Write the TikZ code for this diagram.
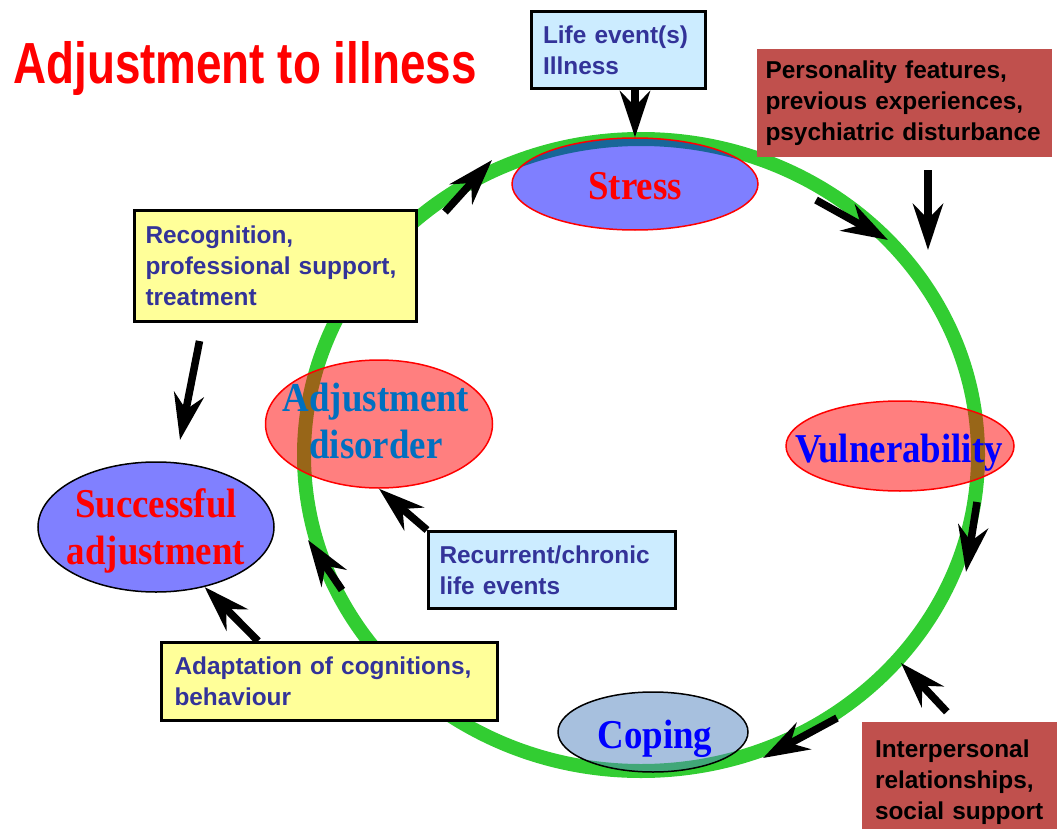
\documentclass[tikz,border=0pt]{standalone}
\usepackage{fontspec}
\setmainfont{Liberation Serif}
\newfontfamily\notefont{Liberation Sans}
\newfontfamily\titlefont{Liberation Sans}[FakeStretch=0.79]
\newfontfamily\bubfont{Liberation Serif}[FakeStretch=0.9]
\usetikzlibrary{arrows.meta, shapes.geometric}
\definecolor{ringgreen}{RGB}{50,205,50}
\definecolor{noteblue}{RGB}{204,236,255}
\definecolor{noteyellow}{RGB}{255,255,153}
\definecolor{notered}{RGB}{192,80,77}
\definecolor{notetext}{RGB}{51,51,153}
\definecolor{copeblue}{RGB}{80,130,190}
\definecolor{disblue}{RGB}{0,112,192}

\begin{document}
\begin{tikzpicture}[x=1pt, y=-1pt, >={Stealth[length=46pt, width=30pt, inset=15pt]},
	flow/.style={->, line width=7.5pt},
	bub/.style={ellipse, inner sep=0pt, line width=1.5pt, fill opacity=0.5},
	bubtext/.style={font=\bubfont\bfseries\fontsize{41}{47}\selectfont, align=center},
	note/.style={rectangle, inner ysep=0pt, align=left, font=\notefont\bfseries\fontsize{24.4}{31}\selectfont},
	lightnote/.style={note, draw=black, line width=3pt, text=notetext},
	darknote/.style={note, fill=notered, text=black}]
	\useasboundingbox (0,0) rectangle (1057,829);
	\clip (0,0) rectangle (1057,829);
	
	\node[anchor=base west, inner sep=0pt, text=red, font=\titlefont\bfseries\fontsize{58}{60}\selectfont] (title) at (13,84) {Adjustment to illness};
	
	% the cycle
	\draw[ringgreen, line width=14pt] (641,455) ellipse [x radius=337, y radius=316];
	
	\node[bub, draw=red, fill=blue, minimum width=246pt, minimum height=92pt] (stress) at (635,184) {};
	\node[bub, draw=red, fill=red, minimum width=228pt, minimum height=90pt] (vuln) at (900,446) {};
	\node[bub, draw=black, fill=copeblue, minimum width=190pt, minimum height=80pt] (coping) at (653,732) {};
	\node[bub, draw=red, fill=red, minimum width=227pt, minimum height=128pt] (adjdis) at (379,424) {};
	\node[bub, draw=black, fill opacity=1, fill=blue!50, minimum width=236pt, minimum height=130pt] (success) at (156,527) {};
	
	\node[bubtext, text=red, anchor=base] at (635,200) {Stress};
	\node[bubtext, text=blue, anchor=base] at (899,462) {Vulnerability};
	\node[bubtext, text=blue, anchor=base] at (655,748) {Coping};
	\node[bubtext, text=disblue] at (376,421) {Adjustment\\disorder};
	\node[bubtext, text=red] at (156,531) {Successful\\adjustment};
	
	% boxes round the cycle
	\node[lightnote, fill=noteblue, inner xsep=12pt, text width=150pt, minimum height=77pt] (life) at (618,50) {Life event(s)\\Illness};
	\node[darknote, inner xsep=8.5pt, text width=278pt, minimum height=108pt] (pers) at (904.5,103) {Personality features,\\previous experiences,\\psychiatric disturbance};
	\node[lightnote, fill=noteyellow, inner xsep=11pt, text width=260pt, minimum height=111pt] (recog) at (275.5,266) {Recognition,\\professional support,\\treatment};
	\node[lightnote, fill=noteblue, inner xsep=11pt, text width=225pt, minimum height=77pt] (recur) at (552,570) {Recurrent/chronic\\life events};
	\node[lightnote, fill=noteyellow, inner xsep=13pt, text width=310pt, minimum height=78pt] (adapt) at (329.5,681.5) {Adaptation of cognitions,\\behaviour};
	\node[darknote, inner xsep=13pt, text width=190pt, minimum height=120pt] (interp) at (970,782) {Interpersonal\\relationships,\\social support};
	
	\coordinate (persTip) at (928,250);
	\coordinate (recogTip) at (180,440);
	\coordinate (interpTip) at (901,663);
	
	\draw[flow] (life.south -| stress.north) -- (stress.north);
	\draw[flow] ([yshift=-13pt]pers.south -| persTip) -- (persTip);
	\draw[flow] ([xshift=-76pt, yshift=-18pt]recog.south) -- (recogTip);
	\draw[flow] (recur.north west) -- (adjdis.south);
	\draw[flow] ([xshift=98pt]adapt.north west) -- (success.-51);
	\draw[flow] ([xshift=85pt, yshift=10pt]interp.north west) -- (interpTip);
	
	% arrows along the cycle
	\coordinate (c1a) at (445,212); \coordinate (c1b) at (492,160);
	\coordinate (c2a) at (816,200); \coordinate (c2b) at (888,240);
	\coordinate (c3a) at (977,502); \coordinate (c3b) at (966,572);
	\coordinate (c4a) at (837,718); \coordinate (c4b) at (763,758);
	\coordinate (c5a) at (342,590); \coordinate (c5b) at (308,540);
	\draw[flow] (c1a) -- (c1b);
	\draw[flow] (c2a) -- (c2b);
	\draw[flow] (c3a) -- (c3b);
	\draw[flow] (c4a) -- (c4b);
	\draw[flow] (c5a) -- (c5b);
\end{tikzpicture}
\end{document}
